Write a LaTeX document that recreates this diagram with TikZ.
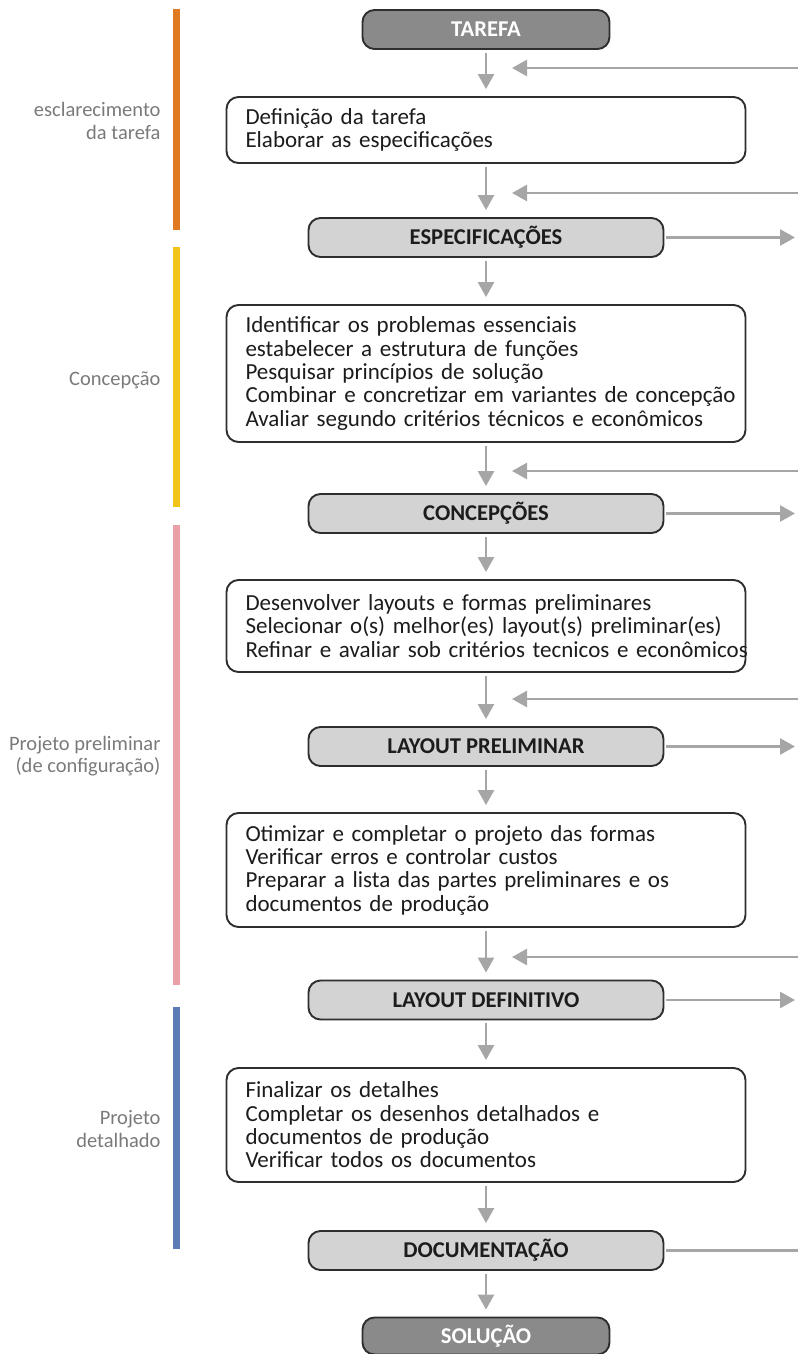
\documentclass[tikz,border=0pt]{standalone}
\usepackage{fontspec}
\setmainfont{Carlito}
\newfontfamily\boxfont{Carlito}
\usetikzlibrary{arrows.meta}
\definecolor{flowgray}{HTML}{A6A6A6}
\definecolor{edgegray}{HTML}{2E2E2E}
\definecolor{darkfill}{HTML}{8A8A8A}
\definecolor{lightfill}{HTML}{D3D3D3}
\definecolor{labelgray}{HTML}{7A7A7A}
\definecolor{inkblack}{HTML}{1C1C1C}
\definecolor{phaseorange}{HTML}{E07B24}
\definecolor{phaseyellow}{HTML}{F0C419}
\definecolor{phasepink}{HTML}{E9A1A7}
\definecolor{phaseblue}{HTML}{5B7BB5}

\begin{document}
\begin{tikzpicture}[x=1pt,y=-1pt,
  milestone/.style={draw=edgegray, line width=1.9pt, rounded corners=12pt,
    fill=lightfill, minimum width=355pt, minimum height=39pt, inner sep=0pt,
    font=\boxfont\fontsize{22.6}{23}\selectfont\bfseries, text=inkblack},
  endpoint/.style={milestone, fill=darkfill, minimum width=247pt, text=white},
  activity/.style={draw=edgegray, line width=1.9pt, rounded corners=12pt,
    fill=white, text width=481pt, inner xsep=19pt, inner ysep=3pt, align=left,
    font=\boxfont\fontsize{23}{23.3}\selectfont, text=inkblack},
  phase/.style={anchor=east, align=right, text=labelgray,
    font=\fontsize{20.5}{22.5}\selectfont},
  phasebar/.style={line width=7pt},
  flow/.style={draw=flowgray, line width=2.6pt, -{Triangle[width=16pt,length=15pt]}},
  downflow/.style={flow, shorten <=3pt, shorten >=7pt},
  outflow/.style={flow, shorten <=2pt},
]
\useasboundingbox (0,0) rectangle (798,1354);

% phase bars on the left
\draw[phasebar, phaseorange] (176,9) -- (176,230);
\draw[phasebar, phaseyellow] (176,247) -- (176,507);
\draw[phasebar, phasepink] (176,525) -- (176,985);
\draw[phasebar, phaseblue] (176,1007) -- (176,1249);

% phase labels
\node[phase] (ph1) at (164,121) {esclarecimento\\da tarefa};
\node[phase] (ph2) at (164,380) {Concepção};
\node[phase] (ph3) at (164,756) {Projeto preliminar\\(de configuração)};
\node[phase] (ph4) at (164,1129) {Projeto\\detalhado};

% main column
\node[endpoint] (tarefa) at (486,29.5) {TAREFA};
\node[activity, minimum height=66pt] (def) at (486,130)
  {\mbox{Definição da tarefa}\\\mbox{Elaborar as especificações}};
\node[milestone] (espec) at (486,237.5) {ESPECIFICAÇÕES};
\node[activity, minimum height=137pt] (conc1) at (486,373.5)
  {\mbox{Identificar os problemas essenciais}\\
   \mbox{estabelecer a estrutura de funções}\\
   \mbox{Pesquisar princípios de solução}\\
   \mbox{Combinar e concretizar em variantes de concepção}\\
   \mbox{Avaliar segundo critérios técnicos e econômicos}};
\node[milestone] (conc) at (486,513.5) {CONCEPÇÕES};
\node[activity, minimum height=92pt] (prel1) at (486,626)
  {\mbox{Desenvolver layouts e formas preliminares}\\
   \mbox{Selecionar o(s) melhor(es) layout(s) preliminar(es)}\\
   \mbox{Refinar e avaliar sob critérios tecnicos e econômicos}};
\node[milestone] (lp) at (486,746.5) {LAYOUT PRELIMINAR};
\node[activity, minimum height=114pt] (prel2) at (486,870)
  {\mbox{Otimizar e completar o projeto das formas}\\
   \mbox{Verificar erros e controlar custos}\\
   \mbox{Preparar a lista das partes preliminares e os}\\
   \mbox{documentos de produção}};
\node[milestone] (ld) at (486,1000) {LAYOUT DEFINITIVO};
\node[activity, minimum height=114pt] (det) at (486,1125)
  {\mbox{Finalizar os detalhes}\\
   \mbox{Completar os desenhos detalhados e}\\
   \mbox{documentos de produção}\\
   \mbox{Verificar todos os documentos}};
\node[milestone] (doc) at (486,1250.5) {DOCUMENTAÇÃO};
\node[endpoint, minimum height=37pt] (sol) at (486,1336) {SOLUÇÃO};

% downward flow
\draw[downflow] (tarefa) -- (def);
\draw[downflow] (def) -- (espec);
\draw[downflow] (espec) -- (conc1);
\draw[downflow] (conc1) -- (conc);
\draw[downflow] (conc) -- (prel1);
\draw[downflow] (prel1) -- (lp);
\draw[downflow] (lp) -- (prel2);
\draw[downflow] (prel2) -- (ld);
\draw[downflow] (ld) -- (det);
\draw[downflow] (det) -- (doc);
\draw[downflow] (doc) -- (sol);

% feedback arrows entering from the right
\coordinate (fb1s) at (798,68);   \coordinate (fb1e) at (512,68);
\coordinate (fb2s) at (798,193);  \coordinate (fb2e) at (512,193);
\coordinate (fb3s) at (798,471);  \coordinate (fb3e) at (512,471);
\coordinate (fb4s) at (798,699);  \coordinate (fb4e) at (512,699);
\coordinate (fb5s) at (798,957);  \coordinate (fb5e) at (512,957);
\draw[flow] (fb1s) -- (fb1e);
\draw[flow] (fb2s) -- (fb2e);
\draw[flow] (fb3s) -- (fb3e);
\draw[flow] (fb4s) -- (fb4e);
\draw[flow] (fb5s) -- (fb5e);

% results leaving to the right
\coordinate (o1) at (795,237.5);
\coordinate (o2) at (795,513.5);
\coordinate (o3) at (795,746.5);
\coordinate (o4) at (795,1000);
\coordinate (o5) at (798,1250.5);
\draw[outflow] (espec) -- (o1);
\draw[outflow] (conc) -- (o2);
\draw[outflow] (lp) -- (o3);
\draw[outflow] (ld) -- (o4);
\draw[draw=flowgray, line width=2.6pt, shorten <=2pt] (doc) -- (o5);
\end{tikzpicture}
\end{document}
